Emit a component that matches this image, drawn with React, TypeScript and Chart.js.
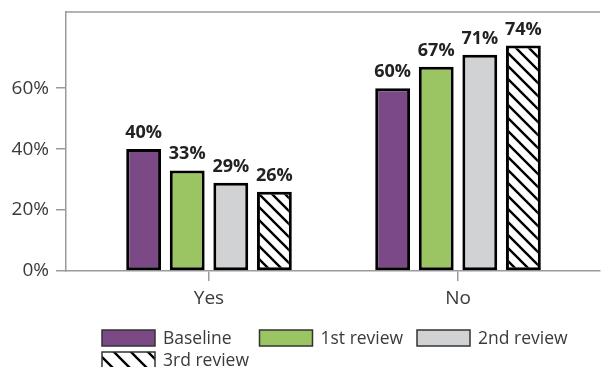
import React, { useEffect, useRef } from "react";
import { Chart, registerables } from "chart.js";

Chart.register(...registerables);

const categories = ["Yes", "No"];
const seriesNames = ["Baseline", "1st review", "2nd review", "3rd review"];
const baseline = [40, 60];
const review1 = [33, 67];
const review2 = [29, 71];
const review3 = [26, 74];
const yTickValues = [0, 20, 40, 60];
const seriesColors = ["#7b4a86", "#9bc563", "#d1d2d4", "hatch"];

const FONT = "'Open Sans', 'Noto Sans', sans-serif";
const AXIS_GRAY = "#9a9a9a";
const TEXT = "#3a3a3a";

function makeHatch(size: number, lw: number): CanvasPattern | string {
  const c = document.createElement("canvas");
  c.width = size;
  c.height = size;
  const g = c.getContext("2d");
  if (!g) return "#fff";
  g.fillStyle = "#fff";
  g.fillRect(0, 0, size, size);
  g.strokeStyle = "#000";
  g.lineWidth = lw;
  g.beginPath();
  for (const a of [-size, 0, size]) {
    g.moveTo(a - 1, -1);
    g.lineTo(a + size + 1, size + 1);
  }
  g.stroke();
  const p = g.createPattern(c, "repeat");
  return p || "#fff";
}

export default function App() {
  const ref = useRef<HTMLCanvasElement | null>(null);

  useEffect(() => {
    const canvas = ref.current;
    if (!canvas) return;
    const hatch = makeHatch(13, 2.4);
    const legendHatch = makeHatch(17, 2.4);
    const values = [baseline, review1, review2, review3];
    const fills = seriesColors.map((c) => (c === "hatch" ? hatch : c));
    const legendFills = seriesColors.map((c) => (c === "hatch" ? legendHatch : c));

    const datasets = seriesNames.map((name, i) => ({
      label: name,
      data: values[i].map((v, j) => ({ x: j, y: v })),
      backgroundColor: fills[i],
      borderColor: "#000",
      borderWidth: 3,
      borderSkipped: false,
      inflateAmount: 0,
      categoryPercentage: 0.7,
      barPercentage: 0.8,
    }));

    const framePlugin = {
      id: "frameTop",
      beforeDatasetsDraw(chart: any) {
        const { ctx, chartArea } = chart;
        ctx.save();
        ctx.strokeStyle = AXIS_GRAY;
        ctx.lineWidth = 1.5;
        ctx.beginPath();
        ctx.moveTo(chartArea.left, chartArea.top);
        ctx.lineTo(chartArea.right, chartArea.top);
        ctx.stroke();
        ctx.restore();
      },
    };

    const labelPlugin = {
      id: "barLabels",
      afterDatasetsDraw(chart: any) {
        const { ctx } = chart;
        ctx.save();
        ctx.font = `bold 18px ${FONT}`;
        ctx.fillStyle = "#222";
        ctx.textAlign = "center";
        ctx.textBaseline = "alphabetic";
        chart.data.datasets.forEach((ds: any, i: number) => {
          const meta = chart.getDatasetMeta(i);
          meta.data.forEach((el: any, j: number) => {
            const v = ds.data[j].y;
            ctx.fillText(`${v}%`, el.x, el.y - 11);
          });
        });
        ctx.restore();
      },
    };

    const legendPlugin = {
      id: "customLegend",
      afterDraw(chart: any) {
        const { ctx } = chart;
        const left = 102;
        const colW = 157.5;
        const top = 330;
        const rowH = 22;
        const boxW = 53;
        const boxH = 16;
        ctx.save();
        ctx.font = `17.5px ${FONT}`;
        ctx.textBaseline = "middle";
        ctx.textAlign = "left";
        seriesNames.forEach((name, i) => {
          const col = i % 3;
          const row = Math.floor(i / 3);
          const x = left + col * colW;
          const y = top + row * rowH;
          ctx.fillStyle = legendFills[i];
          ctx.fillRect(x, y, boxW, boxH);
          ctx.strokeStyle = "#333";
          ctx.lineWidth = 1.5;
          ctx.strokeRect(x, y, boxW, boxH);
          ctx.fillStyle = TEXT;
          ctx.fillText(name, x + boxW + 8, y + boxH / 2 + 1);
        });
        ctx.restore();
      },
    };

    const chart = new Chart(canvas, {
      type: "bar",
      data: { datasets: datasets as any },
      options: {
        animation: false,
        responsive: false,
        maintainAspectRatio: false,
        layout: { padding: { top: 12, right: 1, left: 0, bottom: 0 } },
        plugins: {
          legend: { display: false },
          tooltip: { enabled: false },
        },
        scales: {
          x: {
            type: "linear",
            offset: false,
            min: -0.5743,
            max: 1.5702,
            afterBuildTicks: (s: any) => {
              s.ticks = categories.map((_, i) => ({ value: i }));
            },
            afterFit: (s: any) => {
              s.height = 96;
              s.paddingLeft = 0;
              s.paddingRight = 0;
            },
            ticks: {
              callback: (v: any) => categories[v as number] ?? "",
              font: { family: FONT, size: 19 },
              color: TEXT,
              padding: 6,
              autoSkip: false,
              maxRotation: 0,
            },
            grid: {
              display: true,
              offset: false,
              drawOnChartArea: false,
              drawTicks: true,
              tickLength: 10,
              color: AXIS_GRAY,
              lineWidth: 1.5,
            },
            border: { display: true, color: AXIS_GRAY, width: 1.5 },
          },
          y: {
            min: 0,
            max: 85,
            afterBuildTicks: (s: any) => {
              s.ticks = yTickValues.map((v) => ({ value: v }));
            },
            afterFit: (s: any) => {
              s.width = 66;
              s.paddingTop = 0;
              s.paddingBottom = 0;
            },
            ticks: {
              callback: (v: any) => `${v}%`,
              font: { family: FONT, size: 19 },
              color: TEXT,
              padding: 7,
            },
            grid: {
              display: true,
              drawOnChartArea: false,
              drawTicks: true,
              tickLength: 10,
              color: AXIS_GRAY,
              lineWidth: 1.5,
            },
            border: { display: true, color: AXIS_GRAY, width: 1.5 },
          },
        },
      },
      plugins: [framePlugin, labelPlugin, legendPlugin],
    });

    return () => chart.destroy();
  }, []);

  return (
    <div style={{ position: "fixed", left: 0, top: 0, width: 601, height: 367, background: "#fff" }}>
      <canvas ref={ref} width={601} height={367} style={{ display: "block" }} />
    </div>
  );
}
